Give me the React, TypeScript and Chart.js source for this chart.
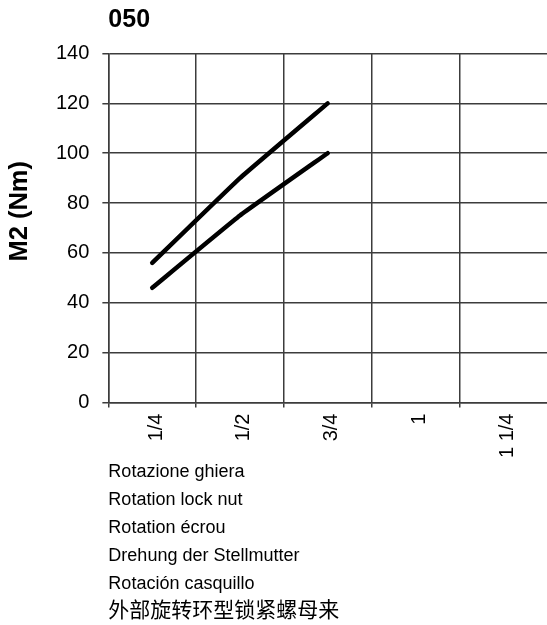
import React, { useEffect, useRef } from "react";
import { Chart, registerables } from "chart.js";

Chart.register(...registerables);

const CHART_TITLE = "050";
const Y_TITLE = "M2 (Nm)";
const X_CATEGORIES = ["1/4", "1/2", "3/4", "1", "1 1/4"];
const UPPER_SERIES = [56, 90, 120, null, null];
const LOWER_SERIES = [46, 75, 100, null, null];
const Y_MIN = 0;
const Y_MAX = 140;
const Y_STEP = 20;
const X_TITLE_LINES = [
  "Rotazione ghiera",
  "Rotation lock nut",
  "Rotation écrou",
  "Drehung der Stellmutter",
  "Rotación casquillo",
];
const X_TITLE_CJK = "外部旋转环型锁紧螺母来";

const FONT = '"Liberation Sans", Arial, "Noto Sans CJK SC", sans-serif';
const CJK_FONT = '"Noto Sans CJK SC", "Liberation Sans", sans-serif';
const GRID_COLOR = "#3c3c3c";

const gridColor = (ctx: any) => (ctx.type === "tick" ? GRID_COLOR : "rgba(0,0,0,0)");

const yTitlePlugin = {
  id: "yTitlePlugin",
  afterDraw(chart: any) {
    const { ctx, chartArea } = chart;
    ctx.save();
    const x = chartArea.left - 88;
    const y = chartArea.top + (chartArea.bottom - chartArea.top) * 0.452;
    ctx.translate(x, y);
    ctx.rotate(-Math.PI / 2);
    ctx.font = `bold 25.5px ${FONT}`;
    ctx.fillStyle = "#000";
    ctx.textAlign = "center";
    ctx.textBaseline = "middle";
    ctx.fillText(Y_TITLE, 0, 0);
    ctx.restore();
  },
};

export default function App() {
  const canvasRef = useRef<HTMLCanvasElement | null>(null);

  useEffect(() => {
    if (!canvasRef.current) return;
    const lineStyle = {
      borderColor: "#000",
      borderWidth: 4.5,
      borderCapStyle: "round" as const,
      borderJoinStyle: "round" as const,
      pointRadius: 0,
      tension: 0.1,
      fill: false,
    };
    const chart = new Chart(canvasRef.current, {
      type: "line",
      data: {
        labels: X_CATEGORIES,
        datasets: [
          { data: UPPER_SERIES, ...lineStyle },
          { data: LOWER_SERIES, ...lineStyle },
        ],
      },
      options: {
        animation: false,
        responsive: false,
        maintainAspectRatio: false,
        devicePixelRatio: 1,
        layout: { padding: { left: 43, right: 0, top: 0, bottom: 0 } },
        plugins: {
          legend: { display: false },
          tooltip: { enabled: false },
          title: {
            display: true,
            text: CHART_TITLE,
            align: "start",
            fullSize: false,
            color: "#000",
            font: { family: FONT, size: 25, weight: "bold", lineHeight: 1.2 },
            padding: { top: 5, bottom: 18.5 },
          },
          subtitle: {
            display: true,
            text: X_TITLE_CJK,
            position: "bottom",
            align: "start",
            fullSize: false,
            color: "#000",
            font: { family: CJK_FONT, size: 21, weight: "normal", lineHeight: "22px" as any },
            padding: { top: 0, bottom: 5 },
          },
        },
        scales: {
          x: {
            type: "category",
            offset: true,
            grid: {
              display: true,
              offset: true,
              color: gridColor,
              lineWidth: 1.5,
              drawTicks: true,
              tickLength: 5,
              tickColor: gridColor,
            },
            border: { display: true, color: GRID_COLOR, width: 1.5 },
            ticks: {
              color: "#000",
              font: { family: FONT, size: 20 },
              minRotation: 90,
              maxRotation: 90,
              padding: 6,
              labelOffset: 4,
              autoSkip: false,
            },
            title: {
              display: true,
              text: X_TITLE_LINES,
              align: "start",
              color: "#000",
              font: { family: FONT, size: 18, lineHeight: "28px" as any },
              padding: { top: -6, bottom: 0 },
            },
          },
          y: {
            type: "linear",
            min: Y_MIN,
            max: Y_MAX,
            ticks: {
              stepSize: Y_STEP,
              color: "#000",
              font: { family: FONT, size: 20 },
              padding: 13,
            },
            grid: {
              display: true,
              color: GRID_COLOR,
              lineWidth: 1.5,
              drawTicks: true,
              tickLength: 6,
              tickColor: GRID_COLOR,
            },
            border: { display: true, color: GRID_COLOR, width: 1.5 },
          },
        },
      },
      plugins: [yTitlePlugin],
    });
    return () => chart.destroy();
  }, []);

  return (
    <div style={{ position: "fixed", left: 0, top: 0, width: 547, height: 625, background: "#fff" }}>
      <canvas ref={canvasRef} width={547} height={625} style={{ display: "block", width: 547, height: 625 }} />
    </div>
  );
}
